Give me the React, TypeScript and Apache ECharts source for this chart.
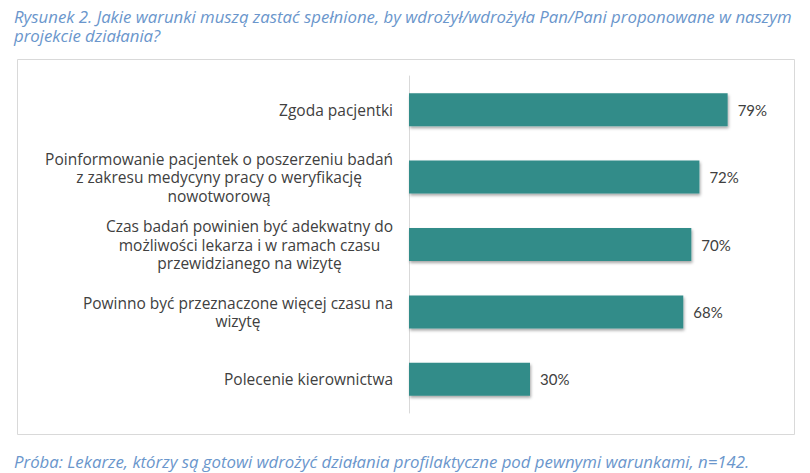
import React, { useEffect, useRef } from "react";
import * as echarts from "echarts";

const categories = [
  "Zgoda pacjentki",
  "Poinformowanie pacjentek o poszerzeniu badań\nz zakresu medycyny pracy o weryfikację\nnowotworową",
  "Czas badań powinien być adekwatny do\nmożliwości lekarza i w ramach czasu\nprzewidzianego na wizytę",
  "Powinno być przeznaczone więcej czasu na\nwizytę",
  "Polecenie kierownictwa",
];
const values = [79, 72, 70, 68, 30];

const titleText =
  "Rysunek 2. Jakie warunki muszą zastać spełnione, by wdrożył/wdrożyła Pan/Pani proponowane w naszym\nprojekcie działania?";
const footerText =
  "Próba: Lekarze, którzy są gotowi wdrożyć działania profilaktyczne pod pewnymi warunkami, n=142.";

export default function App() {
  const ref = useRef<HTMLDivElement>(null);
  useEffect(() => {
    if (!ref.current) return;
    const chart = echarts.init(ref.current, null, { renderer: "svg" });
    const blueText = {
      fontFamily: "Open Sans",
      fontStyle: "italic",
      fontWeight: "normal",
      fontSize: 16.8,
      lineHeight: 19,
      color: "#6A96CC",
    };
    chart.setOption({
      animation: false,
      backgroundColor: "#ffffff",
      title: [
        { text: titleText, left: 9, top: 2, textStyle: blueText },
        { text: footerText, left: 9, top: 447, textStyle: blueText },
      ],
      graphic: [
        {
          type: "rect",
          left: 15,
          top: 57,
          shape: { width: 777, height: 375 },
          style: { fill: "none", stroke: "#D9D9D9", lineWidth: 1 },
          silent: true,
        },
      ],
      grid: { left: 409, right: 38, top: 76, bottom: 60, containLabel: false },
      xAxis: {
        type: "value",
        min: 0,
        max: 90,
        show: false,
        splitLine: { show: false },
      },
      yAxis: {
        type: "category",
        data: categories,
        inverse: true,
        axisTick: { show: false },
        axisLine: { show: true, lineStyle: { color: "#D9D9D9", width: 1 } },
        axisLabel: {
          margin: 16,
          formatter: (v: string) =>
            v
              .split("\n")
              .map((l) => `{c|${l}}`)
              .join("\n"),
          rich: {
            c: {
              align: "center",
              fontFamily: "Open Sans",
              fontSize: 15.5,
              lineHeight: 18.5,
              color: "#404040",
            },
          },
        },
      },
      series: [
        {
          type: "bar",
          data: values,
          barWidth: 33,
          itemStyle: {
            color: "#318C89",
            shadowColor: "rgba(0,0,0,0.35)",
            shadowBlur: 3,
            shadowOffsetX: 1,
            shadowOffsetY: 2,
          },
          label: {
            show: true,
            position: "right",
            distance: 10,
            formatter: "{c}%",
            fontFamily: "Lato",
            fontSize: 15,
            color: "#404040",
          },
        },
      ],
    });
    return () => chart.dispose();
  }, []);
  return (
    <div
      ref={ref}
      style={{ position: "fixed", left: 0, top: 0, width: 810, height: 473 }}
    />
  );
}
